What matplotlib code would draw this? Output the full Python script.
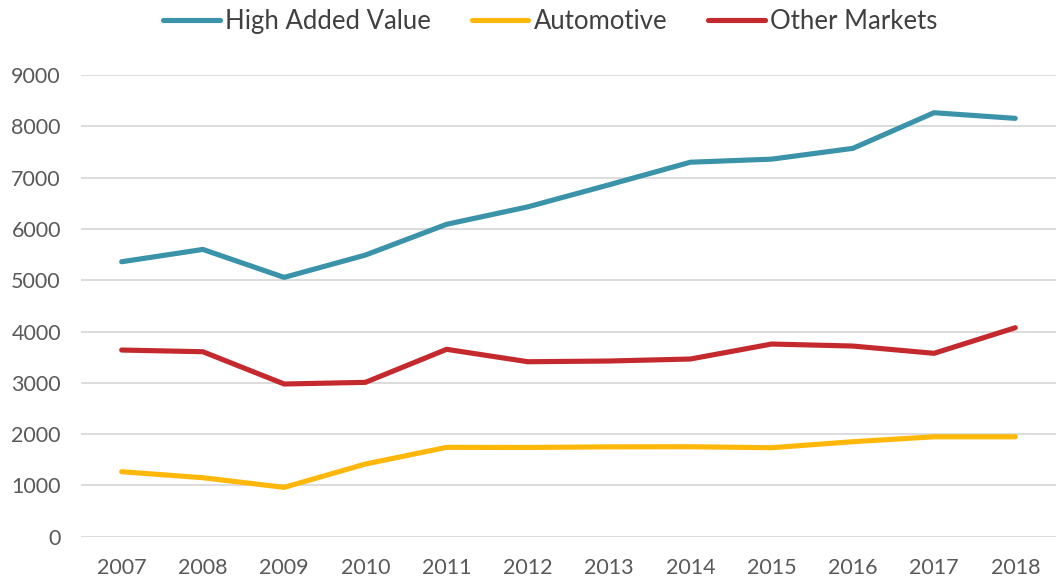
import matplotlib
matplotlib.use("Agg")
import matplotlib.pyplot as plt

years = ["2007", "2008", "2009", "2010", "2011", "2012", "2013", "2014", "2015", "2016", "2017", "2018"]
high_added_value = [5360, 5600, 5055, 5490, 6090, 6430, 6860, 7300, 7360, 7570, 8265, 8155]
automotive = [1267, 1150, 962, 1417, 1742, 1740, 1752, 1754, 1735, 1852, 1948, 1948]
other_markets = [3639, 3606, 2977, 3009, 3653, 3411, 3425, 3464, 3756, 3717, 3575, 4074]
series_names = ["High Added Value", "Automotive", "Other Markets"]
colors = ["#3A93A9", "#FFB80A", "#C4292E"]
yticks = [0, 1000, 2000, 3000, 4000, 5000, 6000, 7000, 8000, 9000]

plt.rcParams['font.family'] = ['Lato', 'DejaVu Sans']

fig = plt.figure(figsize=(10.58, 5.77), dpi=100)
ax = fig.add_axes([0.0766, 0.0698, 0.9214, 0.8002])

x = list(range(len(years)))
for vals, name, c in zip([high_added_value, automotive, other_markets], series_names, colors):
    ax.plot(x, vals, color=c, lw=3.7, label=name, solid_capstyle='round', solid_joinstyle='round')

ax.set_xlim(-0.5, len(years) - 0.5)
ax.set_ylim(0, 9000)
ax.set_yticks(yticks)
ax.set_yticklabels([str(v) for v in yticks])
ax.set_xticks(x)
ax.set_xticklabels(years)
ax.tick_params(axis='both', length=0, labelsize=15.5, colors="#595959")
ax.tick_params(axis='y', pad=14.5)
ax.tick_params(axis='x', pad=15)
for s in ax.spines.values():
    s.set_visible(False)
ax.yaxis.grid(True, color="#D9D9D9", lw=1.3)
ax.set_axisbelow(True)

leg = fig.legend(loc='center', bbox_to_anchor=(0.52, 0.962), ncol=3, frameon=False,
                 fontsize=18.5, handlelength=2.2, handletextpad=0.2, columnspacing=1.6,
                 labelcolor="#404040", borderpad=0)
for h in leg.get_lines():
    h.set_linewidth(3.7)
    h.set_solid_capstyle('round')

fig.savefig("out.png", dpi=100)
